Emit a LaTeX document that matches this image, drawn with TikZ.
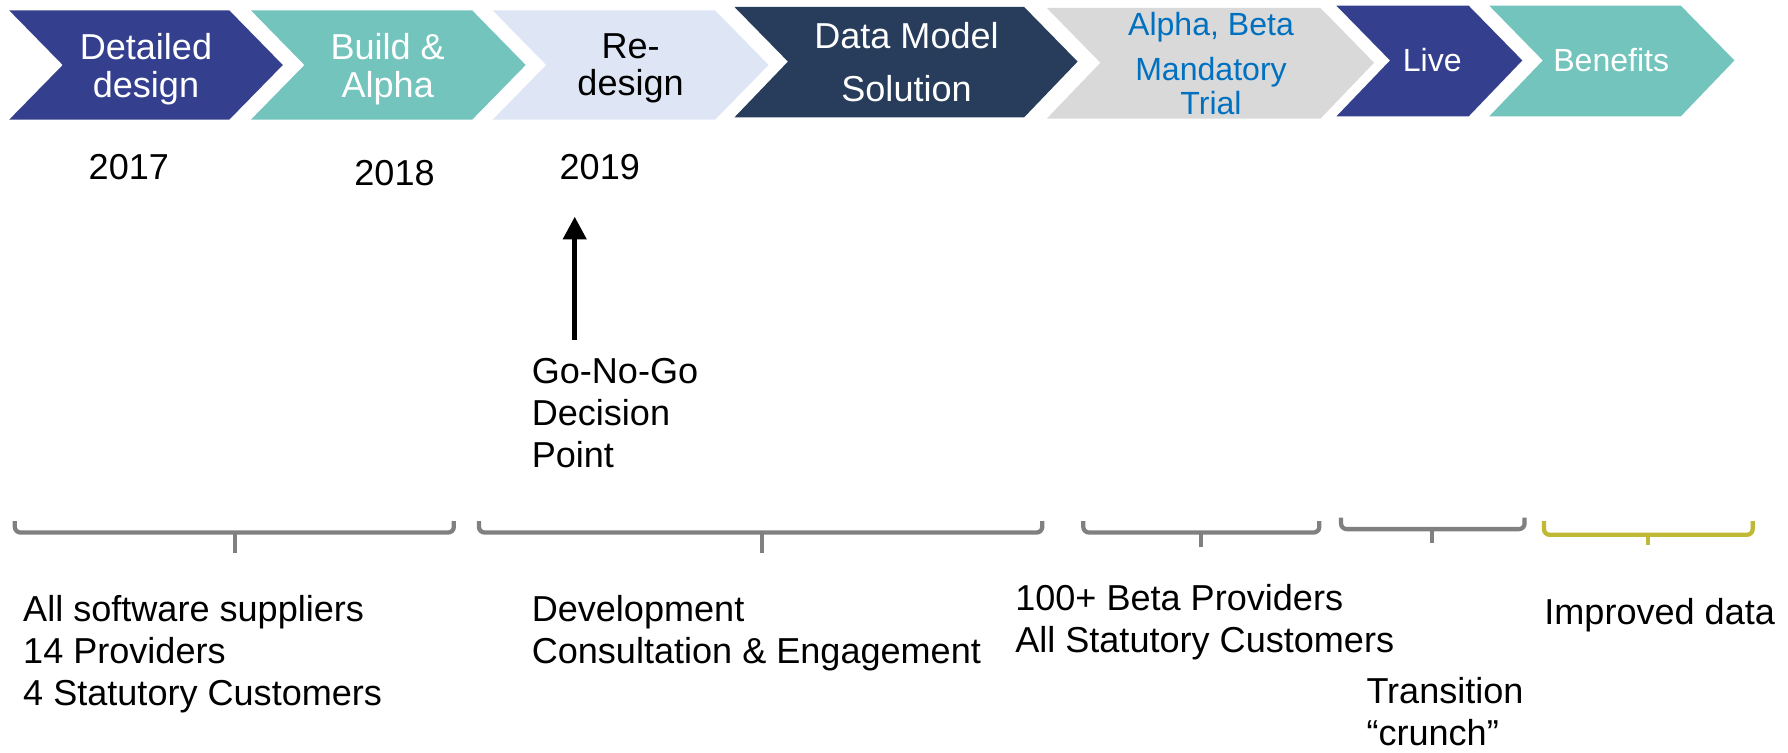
\documentclass[tikz,border=0pt]{standalone}
\usepackage{fontspec}
\setmainfont{Liberation Sans}
\usetikzlibrary{arrows.meta}

\definecolor{ribbonblue}{RGB}{52,64,142}
\definecolor{ribbonteal}{RGB}{115,196,188}
\definecolor{ribbonpale}{RGB}{222,229,244}
\definecolor{ribbonnavy}{RGB}{39,61,91}
\definecolor{ribbongrey}{RGB}{217,217,217}
\definecolor{trialblue}{RGB}{0,112,192}
\definecolor{spangrey}{RGB}{128,128,128}
\definecolor{spanolive}{RGB}{191,185,52}

\tikzset{
  phase/.style={inner sep=0pt,anchor=north,align=center,font=\fontsize{18}{18.7}\selectfont},
  year/.style={inner sep=0pt,anchor=north,font=\fontsize{18}{21}\selectfont},
  remark/.style={inner sep=0pt,anchor=north west,align=left,font=\fontsize{18}{21}\selectfont},
  spanline/.style={line width=0.75mm,rounded corners=1mm,spangrey},
}

\begin{document}
\begin{tikzpicture}[x=0.2mm,y=-0.2mm]
		\useasboundingbox (0,0) rectangle (1568,660);
		% chevrons along the top
		\fill[ribbonblue] (8,9)--(201,9)--(248,57)--(201,105)--(8,105)--(55,57)--cycle;
		\fill[ribbonteal] (220,9)--(414,9)--(461,57)--(414,105)--(220,105)--(267,57)--cycle;
		\fill[ribbonpale] (432,9)--(627,9)--(674,57)--(627,105)--(432,105)--(479,57)--cycle;
		\fill[ribbonnavy] (644,6)--(898,6)--(945,54)--(898,103)--(644,103)--(691,54)--cycle;
		\fill[ribbongrey] (918,7)--(1158,7)--(1205,55)--(1158,104)--(918,104)--(965,55)--cycle;
		\fill[ribbonblue] (1172,5)--(1288,5)--(1335,53)--(1288,102)--(1172,102)--(1219,53)--cycle;
		\fill[ribbonteal] (1306,5)--(1474,5)--(1521,53)--(1474,102)--(1306,102)--(1353,53)--cycle;
		\node[phase,white](detailed) at (128,29) {Detailed\\design};
		\node[phase,white](build) at (340,29) {Build \&\\Alpha};
		\node[phase](redesign) at (553,29) {Re-\\design};
		\node[phase,white,font=\fontsize{18}{26.6}\selectfont](datamodel) at (795,19) {Data Model\\Solution};
		\node[phase,trialblue,font=\fontsize{16}{17}\selectfont](trial) at (1062,10) {Alpha, Beta\\[5.7pt]Mandatory\\Trial};
		\node[phase,white,font=\fontsize{16}{17}\selectfont](live) at (1256,42) {Live};
		\node[phase,white,font=\fontsize{16}{17}\selectfont](benefits) at (1413,42) {Benefits};
		% years
		\node[year](y2017) at (113,135) {2017};
		\node[year](y2018) at (346,140) {2018};
		\node[year](y2019) at (526,135) {2019};
		% decision point
		\node[remark](gonogo) at (466,314) {Go-No-Go\\Decision\\Point};
		\coordinate (gofoot) at (504,298);
		\coordinate (gotip) at (504,190);
		\draw[line width=0.9mm,-{Triangle[width=4mm,length=4mm]}] (gofoot)--(gotip);
		% brackets
		\draw[spanline] (13,457)--(13,467)--(398,467)--(398,457);
		\draw[spanline] (206,467)--(206,485);
		\draw[spanline] (420,457)--(420,467)--(914,467)--(914,457);
		\draw[spanline] (668,467)--(668,485);
		\draw[spanline] (950,457)--(950,467)--(1157,467)--(1157,457);
		\draw[spanline] (1053,467)--(1053,480);
		\draw[spanline] (1176,454)--(1176,464)--(1337,464)--(1337,454);
		\draw[spanline] (1256,464)--(1256,476);
		\draw[spanline,spanolive] (1354,457)--(1354,469)--(1537,469)--(1537,457);
		\draw[spanline,spanolive] (1445,469)--(1445,478);
		% notes under the brackets
		\node[remark](suppliers) at (20,522) {All software suppliers\\14 Providers\\4 Statutory Customers};
		\node[remark](develop) at (466,522) {Development\\Consultation \& Engagement};
		\node[remark](beta) at (890,512) {100+ Beta Providers\\All Statutory Customers};
		\node[remark](crunch) at (1198,594) {Transition\\“crunch”};
		\node[remark](improved) at (1354,524) {Improved data};
	\end{tikzpicture}
\end{document}
